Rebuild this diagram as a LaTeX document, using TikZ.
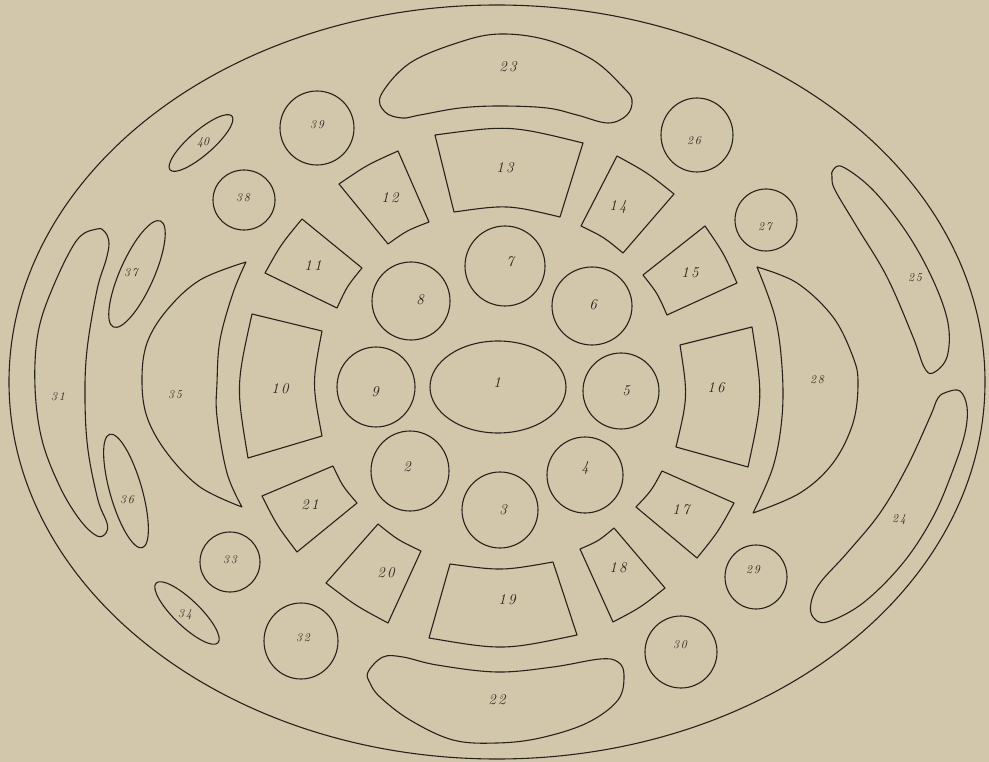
\documentclass[tikz,border=0pt]{standalone}
\usetikzlibrary{calc}
\definecolor{paper}{RGB}{210,199,171}
\definecolor{ink}{RGB}{40,34,28}
\tikzset{
  ln/.style={draw=ink, line width=1.1pt, line join=round},
  lab/.style={font=\fontsize{15}{15}\selectfont\itshape, text=ink, inner sep=0pt},
  slab/.style={font=\fontsize{12}{12}\selectfont\itshape, text=ink, inner sep=0pt}
}
% rim piece: outer edge A-B, side B-C, inner edge C-D, side D-A; #5,#6 bulge of outer/inner edge
\newcommand\rimp[6]{%
  \path #1 coordinate (rA) #2 coordinate (rB) #3 coordinate (rC) #4 coordinate (rD);
  \path ($(rA)!.5!(rB)$) coordinate (rMa) ($(rC)!.5!(rD)$) coordinate (rMb);
  \draw[ln] (rA) .. controls ($(rMa)!-#5pt!(O)$) .. (rB) -- (rC)
            .. controls ($(rMb)!-#6pt!(O)$) .. (rD) -- cycle;
}
\begin{document}
\begin{tikzpicture}[x=1pt,y=-1pt]
\fill[paper] (0,0) rectangle (989,762);
\useasboundingbox (0,0) rectangle (989,762);
\coordinate (O) at (497,387);

% outer boundary
\draw[ln] (497,382) ellipse [x radius=488, y radius=377];

% central ring of circles
\draw[ln] (498,387) ellipse [x radius=68, y radius=46];
\draw[ln] (410,471) ellipse [x radius=39, y radius=40];
\draw[ln] (500,510) ellipse [x radius=38, y radius=38];
\draw[ln] (585,475) ellipse [x radius=38, y radius=38];
\draw[ln] (621,391) ellipse [x radius=38, y radius=38];
\draw[ln] (592,306) ellipse [x radius=40, y radius=39];
\draw[ln] (505,266) ellipse [x radius=40, y radius=40];
\draw[ln] (411,301) ellipse [x radius=39, y radius=39];
\draw[ln] (376,387) ellipse [x radius=39, y radius=40];

% rim pieces
\rimp{(252,314)}{(248,458)}{(322,436)}{(322,331)}{14}{10}% 10
\rimp{(265,273)}{(302,219)}{(362,268)}{(337,308)}{3}{3}% 11
\rimp{(339,184)}{(398,151)}{(429,222)}{(388,244)}{3}{3}% 12
\rimp{(435,135)}{(583,143)}{(560,217)}{(454,212)}{14}{10}% 13
\rimp{(617,156)}{(674,194)}{(623,253)}{(581,226)}{3}{3}% 14
\rimp{(705,226)}{(737,283)}{(667,315)}{(643,275)}{3}{3}% 15
\rimp{(752,327)}{(748,467)}{(676,447)}{(680,345)}{13}{10}% 16
\rimp{(734,503)}{(697,558)}{(636,507)}{(662,471)}{3}{3}% 17
\rimp{(665,588)}{(613,622)}{(580,549)}{(614,528)}{3}{3}% 18
\rimp{(429,638)}{(577,635)}{(553,562)}{(450,564)}{14}{8}% 19
\rimp{(388,623)}{(326,583)}{(378,524)}{(421,551)}{3}{3}% 20
\rimp{(297,552)}{(262,496)}{(333,466)}{(357,503)}{3}{3}% 21

% 22 and 23
\draw[ln] plot[smooth cycle, tension=0.6] coordinates {(368,672) (383,657) (403,657) (437,665) (497,672) (553,667) (600,659) (618,662) (624,675) (618,700) (587,723) (540,738) (497,743) (453,740) (410,720) (380,697) (370,683)};
\draw[ln] plot[smooth cycle, tension=0.6] coordinates {(381,95) (410,63) (460,42) (500,34) (547,40) (593,60) (623,87) (632,100) (627,115) (608,123) (577,115) (547,108) (500,106) (460,108) (420,115) (402,118) (385,112)};

% 24, 25, 31 bands
\draw[ln] plot[smooth cycle, tension=0.6] coordinates {(947,392) (960,391) (967,407) (965,433) (953,470) (933,517) (903,563) (863,603) (827,622) (813,617) (811,603) (820,583) (847,553) (880,513) (907,467) (930,417) (938,398)};
\draw[ln] plot[smooth cycle, tension=0.6] coordinates {(833,170) (843,167) (873,190) (907,233) (933,280) (948,323) (947,357) (933,373) (924,367) (913,337) (887,277) (857,227) (835,190) (832,177)};
\draw[ln] plot[smooth cycle, tension=0.6] coordinates {(97,229) (77,240) (53,287) (38,333) (35,387) (42,440) (60,487) (80,520) (97,536) (106,533) (107,523) (98,500) (88,450) (85,400) (87,350) (97,290) (106,260) (109,243) (105,232)};

% crescents 28 and 35
\draw[ln] plot[smooth, tension=0.6] coordinates {(757,267) (797,283) (833,317) (853,357) (858,383) (853,423) (833,463) (800,493) (753,513)}
  -- plot[smooth, tension=0.6] coordinates {(753,513) (773,467) (782,417) (782,367) (775,317) (757,267)} -- cycle;
\draw[ln] plot[smooth, tension=0.6] coordinates {(246,262) (200,280) (167,310) (147,343) (142,380) (147,417) (167,453) (200,487) (242,507)}
  -- plot[smooth, tension=0.6] coordinates {(242,507) (227,473) (217,417) (217,383) (220,340) (233,293) (246,262)} -- cycle;

% outer circles
\draw[ln] (697,135) ellipse [x radius=36, y radius=37];
\draw[ln] (766,220) ellipse [x radius=31, y radius=31];
\draw[ln] (756,577) ellipse [x radius=31, y radius=32];
\draw[ln] (681,652) ellipse [x radius=36, y radius=36];
\draw[ln] (301,641) ellipse [x radius=37, y radius=38];
\draw[ln] (230,562) ellipse [x radius=30, y radius=30];
\draw[ln] (244,200) ellipse [x radius=31, y radius=30];
\draw[ln] (317,128) ellipse [x radius=37, y radius=37];

% slanted ellipses
\draw[ln, rotate around={66:(137,274)}] (137,274) ellipse [x radius=58, y radius=17];
\draw[ln, rotate around={106:(126,491)}] (126,491) ellipse [x radius=59, y radius=16];
\draw[ln, rotate around={-44:(187,613)}] (187,613) ellipse [x radius=43, y radius=13];
\draw[ln, rotate around={41:(201,143)}] (201,143) ellipse [x radius=41, y radius=12];

% labels
\node[lab] (l1) at (497,383) {1};
\node[lab] (l2) at (407,467) {2};
\node[lab] (l3) at (503,510) {3};
\node[lab] (l4) at (585,468) {4};
\node[lab] (l5) at (626,391) {5};
\node[lab] (l6) at (593,305) {6};
\node[lab] (l7) at (510,262) {7};
\node[lab] (l8) at (420,300) {8};
\node[lab] (l9) at (375,392) {9};
\node[lab] (l10) at (280,389) {1\,0};
\node[lab] (l11) at (313,266) {1\,1};
\node[lab] (l12) at (390,198) {1\,2};
\node[lab] (l13) at (505,168) {1\,3};
\node[lab] (l14) at (618,207) {1\,4};
\node[lab] (l15) at (690,273) {1\,5};
\node[lab] (l16) at (716,388) {1\,6};
\node[lab] (l17) at (681,510) {1\,7};
\node[lab] (l18) at (618,568) {1\,8};
\node[lab] (l19) at (507,600) {1\,9};
\node[lab] (l20) at (386,573) {2\,0};
\node[lab] (l21) at (310,505) {2\,1};
\node[lab] (l22) at (497,700) {2\,2};
\node[lab] (l23) at (508,67) {2\,3};
\node[slab] (l24) at (899,520) {2\,4};
\node[slab] (l25) at (915,278) {2\,5};
\node[slab] (l26) at (694,141) {2\,6};
\node[slab] (l27) at (765,227) {2\,7};
\node[slab] (l28) at (817,380) {2\,8};
\node[slab] (l29) at (753,570) {2\,9};
\node[slab] (l30) at (680,645) {3\,0};
\node[slab] (l31) at (58,397) {3\,1};
\node[slab] (l32) at (303,638) {3\,2};
\node[slab] (l33) at (230,560) {3\,3};
\node[slab] (l34) at (185,615) {3\,4};
\node[slab] (l35) at (175,395) {3\,5};
\node[slab] (l36) at (127,500) {3\,6};
\node[slab] (l37) at (131,273) {3\,7};
\node[slab] (l38) at (243,198) {3\,8};
\node[slab] (l39) at (317,125) {3\,9};
\node[slab] (l40) at (203,143) {40};
\end{tikzpicture}
\end{document}
